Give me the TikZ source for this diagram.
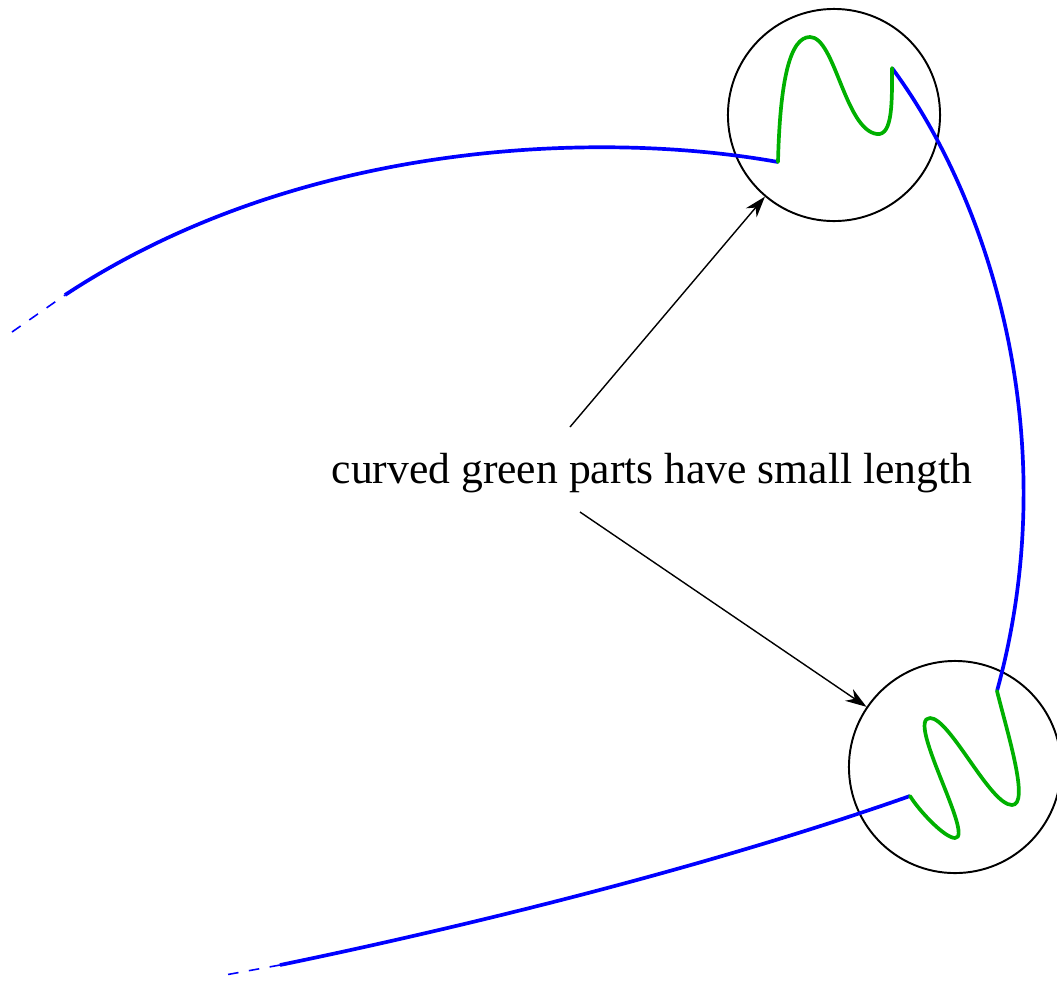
\documentclass[tikz,border=0pt]{standalone}
\usepackage{fontspec}
\setmainfont{Liberation Serif}
\usepackage{xcolor}
\usetikzlibrary{arrows.meta,positioning,calc}
\definecolor{pathblue}{HTML}{0000FF}
\definecolor{wiggle}{HTML}{00B000}
\tikzset{
  zoomring/.style={
    circle, draw=black, line width=0.55pt,
    minimum size=2.12cm, inner sep=0pt
  },
  bluepath/.style={
    draw=pathblue, line width=1.05pt
  },
  bluetail/.style={
    draw=pathblue, line width=0.45pt, dash pattern=on 3pt off 3pt
  },
  greenpath/.style={
    draw=wiggle, line width=1.05pt, line cap=round, line join=round
  },
  pointer/.style={
    -{Stealth[length=6pt,width=4pt]}, line width=0.4pt, black
  },
  caption/.style={
    font=\fontsize{12.4}{15}\selectfont, inner sep=2pt
  },
}
\begin{document}
\begin{tikzpicture}[x=0.01cm, y=-0.01cm]
    \useasboundingbox (0,0) rectangle (1057,981);
    % circles around the short wiggles
    \node[zoomring] (topring) at (834,115) {};
    \node[zoomring] (lowring) at (955,767) {};
    % end points of the pieces
    \coordinate (topin) at (778,162);
    \coordinate (topout) at (892,68);
    \coordinate (lowin) at (997,691);
    \coordinate (lowout) at (910,796);
    \coordinate (leftend) at (65,295);
    \coordinate (leftfade) at (12,332);
    \coordinate (bottomend) at (280,965);
    \coordinate (bottomfade) at (225,975);
    % long blue arcs
    \draw[bluetail] (leftfade) -- (leftend);
    \draw[bluepath] (leftend) .. controls (300,140) and (600,130) .. (topin);
    \draw[bluepath] (topout) .. controls (990,200) and (1066,440) .. (lowin);
    \draw[bluepath] (lowout) .. controls (700,870) and (450,930) .. (bottomend);
    \draw[bluetail] (bottomend) -- (bottomfade);
    % green wiggles
    \draw[greenpath] (topin) .. controls (780,80) and (790,37) .. (810,37)
        .. controls (835,37) and (845,130) .. (877,134)
        .. controls (893,136) and (892,100) .. (topout);
    \draw[greenpath] (lowin) .. controls (1008,735) and (1030,805) .. (1012,805)
        .. controls (990,805) and (950,718) .. (930,718)
        .. controls (905,718) and (975,838) .. (955,838)
        .. controls (945,838) and (920,812) .. (lowout);
    % label and pointers
    \node[caption] (note) at (652,473) {curved green parts have small length};
    \coordinate (noteup) at (570,427);
    \coordinate (notedown) at (580,512);
    \draw[pointer] (noteup) -- (topring);
    \draw[pointer] (notedown) -- (lowring);
\end{tikzpicture}
\end{document}
